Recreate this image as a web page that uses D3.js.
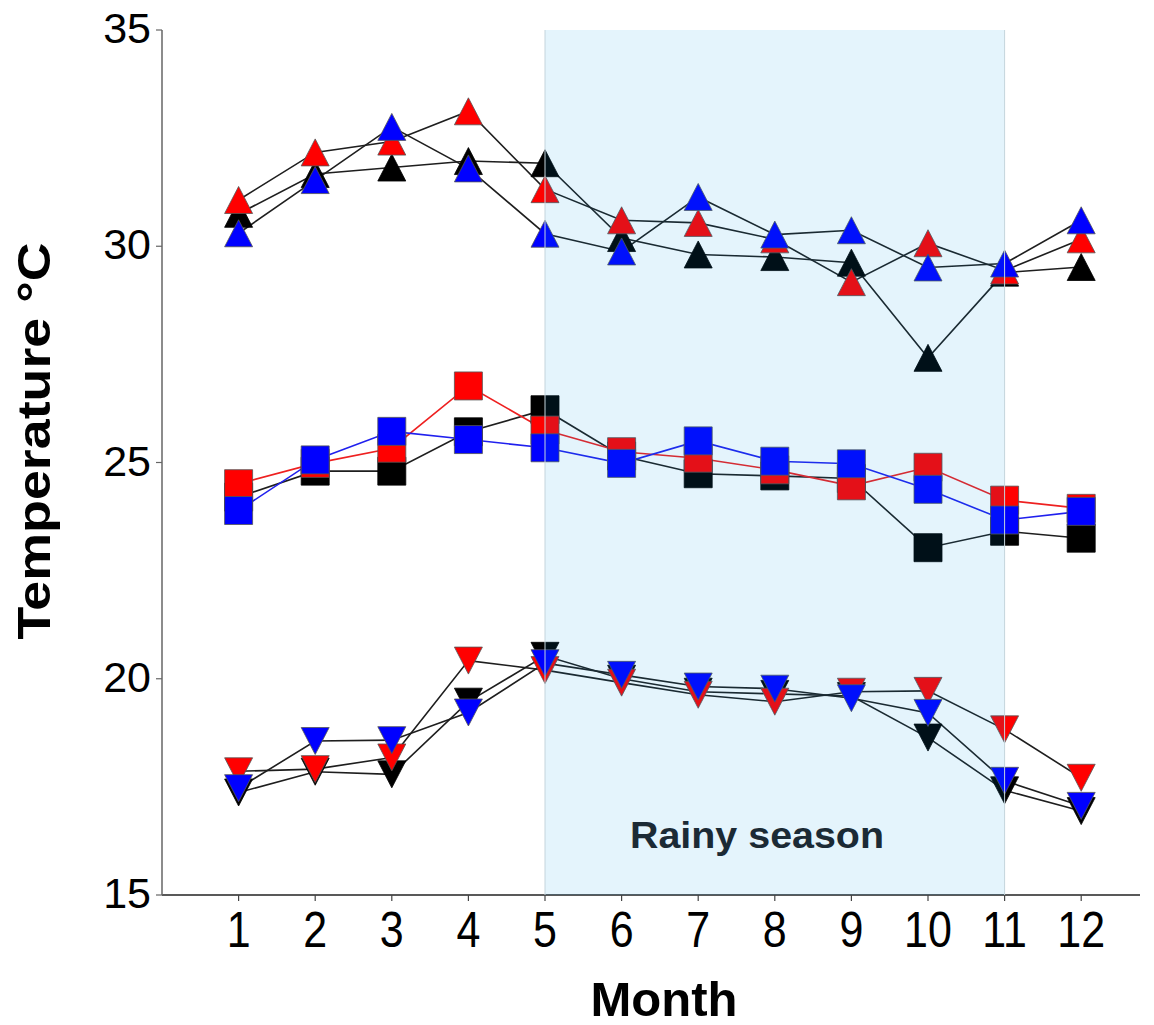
<!DOCTYPE html>
<html>
<head>
<meta charset="utf-8">
<script src="https://cdn.jsdelivr.net/npm/d3@7"></script>
<style>
  body { margin: 0; background: #fff; }
  svg { display: block; font-family: "Liberation Sans", Arial, sans-serif; }
</style>
</head>
<body>
<svg id="chart"></svg>
<script>
const totalWidth = 1154;
const totalHeight = 1025;

// data
const months = [1, 2, 3, 4, 5, 6, 7, 8, 9, 10, 11, 12];
const yTicks = [15, 20, 25, 30, 35];
const rainyStart = 5;
const rainyEnd = 11;

const maxBlack = [30.75, 31.67, 31.82, 31.97, 31.92, 30.19, 29.81, 29.75, 29.62, 27.42, 29.39, 29.52];
const maxRed   = [31.07, 32.17, 32.42, 33.12, 31.32, 30.60, 30.54, 30.16, 29.17, 30.07, 29.44, 30.16];
const maxBlue  = [30.30, 31.53, 32.76, 31.80, 30.29, 29.88, 31.14, 30.27, 30.37, 29.51, 29.60, 30.60];

const meanBlack = [24.20, 24.80, 24.80, 25.71, 26.22, 25.15, 24.74, 24.69, 24.63, 23.03, 23.41, 23.25];
const meanRed   = [24.51, 24.98, 25.33, 26.77, 25.75, 25.25, 25.10, 24.83, 24.46, 24.89, 24.13, 23.94];
const meanBlue  = [23.89, 25.06, 25.72, 25.53, 25.34, 24.98, 25.50, 25.03, 24.97, 24.38, 23.67, 23.87];

const minBlack = [17.37, 17.85, 17.79, 19.47, 20.53, 20.00, 19.70, 19.65, 19.60, 18.64, 17.42, 16.94];
const minRed   = [17.86, 17.91, 18.18, 20.42, 20.20, 19.91, 19.63, 19.47, 19.70, 19.72, 18.83, 17.71];
const minBlue  = [17.47, 18.56, 18.58, 19.22, 20.36, 20.09, 19.82, 19.77, 19.55, 19.21, 17.64, 17.06];

const colors = { black: "#000000", red: "#ff0000", blue: "#0000ff" };

// drawing order: black first, then red, then blue on top
const series = [
    { shape: "up",     color: "black", values: maxBlack,  line: "#1e1e1e" },
    { shape: "up",     color: "red",   values: maxRed,    line: "#1e1e1e" },
    { shape: "up",     color: "blue",  values: maxBlue,   line: "#1e1e1e" },
    { shape: "square", color: "black", values: meanBlack, line: "#1e1e1e" },
    { shape: "square", color: "red",   values: meanRed,   line: "#ee2020" },
    { shape: "square", color: "blue",  values: meanBlue,  line: "#2020ee" },
    { shape: "down",   color: "black", values: minBlack,  line: "#1e1e1e" },
    { shape: "down",   color: "red",   values: minRed,    line: "#1e1e1e" },
    { shape: "down",   color: "blue",  values: minBlue,   line: "#1e1e1e" }
];

const svg = d3.select('#chart')
    .attr('width', totalWidth)
    .attr('height', totalHeight);

const x = d3.scaleLinear().domain([0, 13]).range([162, 162 + 13 * 76.6]);
const y = d3.scaleLinear().domain([15, 35]).range([895, 30]);

// axes
svg.append("line")
    .attr("x1", x(0)).attr("x2", 1140)
    .attr("y1", y(15)).attr("y2", y(15))
    .attr("stroke", "#222").attr("stroke-width", 1.5);

svg.append("line")
    .attr("x1", x(0)).attr("x2", x(0))
    .attr("y1", y(35)).attr("y2", y(15))
    .attr("stroke", "#666").attr("stroke-width", 1.5);

svg.selectAll(".xtick")
    .data(months)
    .enter()
    .append("line")
    .attr("x1", d => x(d)).attr("x2", d => x(d))
    .attr("y1", y(15)).attr("y2", y(15) + 6)
    .attr("stroke", "#444").attr("stroke-width", 1.2);

svg.selectAll(".xlabel")
    .data(months)
    .enter()
    .append("text")
    .attr("transform", d => `translate(${x(d)},947) scale(1,1.14)`)
    .attr("text-anchor", "middle")
    .attr("font-size", "43px")
    .attr("fill", "#000")
    .text(d => d);

svg.selectAll(".ytick")
    .data(yTicks)
    .enter()
    .append("line")
    .attr("x1", x(0) - 6).attr("x2", x(0))
    .attr("y1", d => y(d)).attr("y2", d => y(d))
    .attr("stroke", "#666").attr("stroke-width", 1.2);

svg.selectAll(".ylabel")
    .data(yTicks)
    .enter()
    .append("text")
    .attr("x", 151)
    .attr("y", d => y(d) + 13)
    .attr("text-anchor", "end")
    .attr("font-size", "43px")
    .attr("fill", "#000")
    .text(d => d);

// axis titles
svg.append("text")
    .attr("x", 664)
    .attr("y", 1016)
    .attr("text-anchor", "middle")
    .attr("font-size", "48px")
    .attr("font-weight", "bold")
    .attr("textLength", 147)
    .attr("lengthAdjust", "spacingAndGlyphs")
    .text("Month");

svg.append("text")
    .attr("transform", "translate(50,441) rotate(-90)")
    .attr("text-anchor", "middle")
    .attr("font-size", "46px")
    .attr("font-weight", "bold")
    .attr("textLength", 397)
    .attr("lengthAdjust", "spacingAndGlyphs")
    .text("Temperature °C");

// lines
const line = d3.line()
    .x((v, i) => x(months[i]))
    .y(v => y(v));

svg.selectAll(".series-line")
    .data(series)
    .enter()
    .append("path")
    .attr("d", s => line(s.values))
    .attr("fill", "none")
    .attr("stroke", s => s.line)
    .attr("stroke-width", 1.6);

// markers
const half = 14;
function markerPath(shape) {
    if (shape === "square") {
        return `M${-half},${-half}H${half}V${half}H${-half}Z`;
    }
    if (shape === "up") {
        return `M0,${-13.5}L${half},13.5L${-half},13.5Z`;
    }
    return `M${-half},${-13.5}L${half},${-13.5}L0,13.5Z`;
}

series.forEach(s => {
    svg.selectAll(null)
        .data(s.values)
        .enter()
        .append("path")
        .attr("transform", (v, i) => `translate(${x(months[i])},${y(v)})`)
        .attr("d", markerPath(s.shape))
        .attr("fill", colors[s.color])
        .attr("stroke", s.color === "black" ? "#000" : "#555")
        .attr("stroke-width", 0.8);
});

// rainy season shading (translucent, on top of the marks)
svg.append("rect")
    .attr("x", x(rainyStart))
    .attr("y", y(35))
    .attr("width", x(rainyEnd) - x(rainyStart))
    .attr("height", y(15) - y(35))
    .attr("fill", "rgb(0,151,226)")
    .attr("fill-opacity", 0.106);

[rainyStart, rainyEnd].forEach(m => {
    svg.append("line")
        .attr("x1", x(m)).attr("x2", x(m))
        .attr("y1", y(35)).attr("y2", y(15))
        .attr("stroke", "#c4d4dc").attr("stroke-width", 1);
});

svg.append("text")
    .attr("x", 757)
    .attr("y", 848)
    .attr("text-anchor", "middle")
    .attr("font-size", "36px")
    .attr("font-weight", "bold")
    .attr("fill", "#1b2a35")
    .attr("textLength", 254)
    .attr("lengthAdjust", "spacingAndGlyphs")
    .text("Rainy season");
</script>
</body>
</html>
